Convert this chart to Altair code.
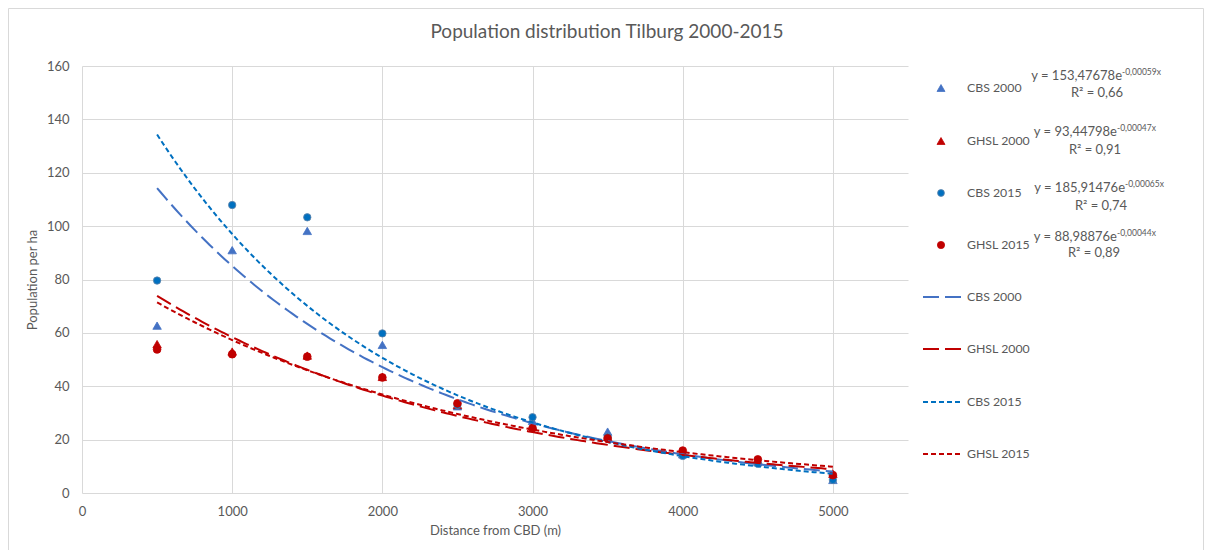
import altair as alt
import pandas as pd

# ---------------- data ----------------
distance = [500, 1000, 1500, 2000, 2500, 3000, 3500, 4000, 4500, 5000]
cbs_2000 = [62.7, 91.0, 98.2, 55.5, 32.5, 27.0, 23.0, 14.5, 11.5, 4.9]
ghsl_2000 = [55.8, 53.0, 51.5, 43.5, 33.0, 25.0, 21.0, 15.5, 12.3, 7.2]
cbs_2015 = [79.6, 107.9, 103.3, 59.8, 33.0, 28.4, 21.0, 13.9, 11.0, 4.9]
ghsl_2015 = [53.8, 52.0, 51.1, 43.3, 33.6, 24.3, 20.5, 15.9, 12.6, 6.7]

series_names = ["CBS 2000", "GHSL 2000", "CBS 2015", "GHSL 2015"]
trend_a = [153.47678, 93.44798, 185.91476, 88.98876]
trend_b = [-0.00059, -0.00047, -0.00065, -0.00044]
eq_main = ["y = 153,47678e", "y = 93,44798e", "y = 185,91476e", "y = 88,98876e"]
eq_sup = ["-0,00059x", "-0,00047x", "-0,00065x", "-0,00044x"]
r2_text = ["R² = 0,66", "R² = 0,91", "R² = 0,74", "R² = 0,89"]

x_ticks = [0, 1000, 2000, 3000, 4000, 5000]
y_ticks = [0, 20, 40, 60, 80, 100, 120, 140, 160]

title_text = "Population distribution Tilburg 2000-2015"
x_title = "Distance from CBD (m)"
y_title = "Population per ha"

# ---------------- styling ----------------
FONT = "Lato"
TXT = "#595959"
GRID = "#d9d9d9"
colors = ["#4472C4", "#C00000", "#0070C0", "#C00000"]
shapes = ["triangle-up", "triangle-up", "circle", "circle"]
sizes = [72, 72, 55, 60]
strokes = ["#4472C4", "#C00000", "#5f84aa", "#C00000"]
dashes = [[16, 6], [16, 6], [5, 3], [5, 3]]

W, H = 826, 427

xscale = alt.Scale(domain=[0, 5500], nice=False, zero=False)
yscale = alt.Scale(domain=[0, 160], nice=False)
xaxis = alt.Axis(values=x_ticks, title=x_title, grid=True, gridColor=GRID,
                 domain=False, ticks=False, labelPadding=12, titlePadding=6,
                 labelFlush=False, format="d")
yaxis = alt.Axis(values=y_ticks, title=y_title, grid=True, gridColor=GRID,
                 domain=False, ticks=False, labelPadding=13, titlePadding=7)

values = [cbs_2000, ghsl_2000, cbs_2015, ghsl_2015]

layers = []
# scatter points
for i, name in enumerate(series_names):
    df = pd.DataFrame({"distance": distance, "pop": values[i], "series": name})
    layers.append(
        alt.Chart(df).mark_point(shape=shapes[i], filled=True, size=sizes[i],
                                 color=colors[i], stroke=strokes[i],
                                 strokeWidth=0.8, opacity=1)
        .encode(x=alt.X("distance:Q", scale=xscale, axis=xaxis),
                y=alt.Y("pop:Q", scale=yscale, axis=yaxis))
    )

# exponential trendlines (from the equations shown on the chart)
for i, name in enumerate(series_names):
    layers.append(
        alt.Chart(alt.sequence(500, 5001, 25, as_="x"))
        .transform_calculate(y=f"{trend_a[i]}*exp({trend_b[i]}*datum.x)")
        .mark_line(color=colors[i], strokeWidth=2, strokeDash=dashes[i])
        .encode(x=alt.X("x:Q", scale=xscale), y=alt.Y("y:Q", scale=yscale))
    )


def text_layer(txt, x, y, size=13, align="left", baseline="middle", angle=0):
    return (alt.Chart(pd.DataFrame({"t": [txt]}))
            .mark_text(font=FONT, fontSize=size, color=TXT, align=align,
                       baseline=baseline, angle=angle)
            .encode(x=alt.value(x), y=alt.value(y), text="t:N"))


# title
layers.append(text_layer(title_text, 525, -34, size=19, align="center"))

# legend: marker entries with equations
mark_rows = [22, 75, 127, 179]
eq_rows = [10, 66, 122, 171]
r2_rows = [27, 84, 140, 187]
e_end = [1040, 1035, 1043, 1035]
r2_center = [1015, 1013, 1019, 1012]
for i, name in enumerate(series_names):
    layers.append(
        alt.Chart(pd.DataFrame({"s": [name]}))
        .mark_point(shape=shapes[i], filled=True, size=sizes[i] - 8,
                    color=colors[i], stroke=strokes[i], strokeWidth=0.8, opacity=1)
        .encode(x=alt.value(859), y=alt.value(mark_rows[i]))
    )
    layers.append(text_layer(name, 885, mark_rows[i], size=12.3))
    layers.append(text_layer(eq_main[i], e_end[i], eq_rows[i], align="right"))
    layers.append(text_layer(eq_sup[i], e_end[i], eq_rows[i] - 4, size=8.5))
    layers.append(text_layer(r2_text[i], r2_center[i], r2_rows[i], align="center"))

# legend: trendline entries
line_rows = [231, 283, 336, 388]
for i, name in enumerate(series_names):
    layers.append(
        alt.Chart(pd.DataFrame({"s": [name]}))
        .mark_rule(color=colors[i], strokeWidth=2, strokeDash=dashes[i])
        .encode(x=alt.value(841), x2=alt.value(881), y=alt.value(line_rows[i]))
    )
    layers.append(text_layer(name, 885, line_rows[i], size=12.3))

# outer border
layers.append(
    alt.Chart(pd.DataFrame({"b": [1]}))
    .mark_rect(fillOpacity=0, stroke=GRID, strokeWidth=1)
    .encode(x=alt.value(-73.5), y=alt.value(-57.5), x2=alt.value(1121.5),
            y2=alt.value(560))
)

chart = (
    alt.layer(*layers)
    .properties(width=W, height=H, autosize=alt.AutoSizeParams(type="none"),
                padding={"left": 74, "top": 58, "right": 296, "bottom": 57})
    .configure_view(stroke=None)
    .configure_axis(labelFont=FONT, titleFont=FONT, labelFontSize=13,
                    titleFontSize=13, labelColor=TXT, titleColor=TXT,
                    titleFontWeight="normal")
)

chart.save("out.html", embed_options={"renderer": "svg", "actions": False})
